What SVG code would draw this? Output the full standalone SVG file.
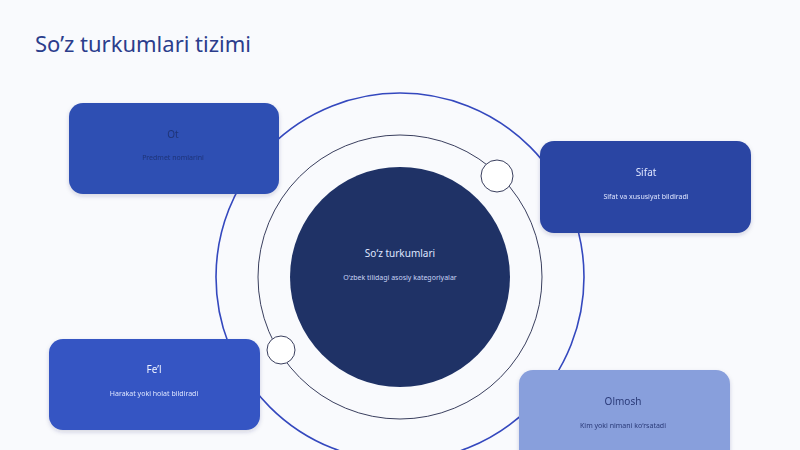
<svg xmlns="http://www.w3.org/2000/svg" width="800" height="450" viewBox="0 0 800 450">
<defs>
<filter id="sh" x="-10%" y="-10%" width="120%" height="130%"><feDropShadow dx="0" dy="2" stdDeviation="2" flood-color="#1e2a60" flood-opacity="0.18"/></filter>
<style>
.t{font-family:"Noto Sans","Open Sans",sans-serif;text-anchor:middle}
.h{font-size:10px}
.s{font-size:7px}
</style>
</defs>
<rect width="800" height="450" fill="#f9fafd"/>
<text x="35" y="52" font-family="Noto Sans, sans-serif" font-size="22" fill="#2b3d8c">So’z turkumlari tizimi</text>
<g id="connectors" fill="none">
<circle cx="400" cy="277" r="184" stroke="#3448be" stroke-width="1.6"/>
<circle cx="400" cy="277" r="142" stroke="#3a3f5e" stroke-width="1"/>
</g>
<g id="center">
<circle cx="400" cy="277" r="110" fill="#1f3266"/>
<text class="t h" x="400" y="257" fill="#dfe6ff">So‘z turkumlari</text>
<text class="t s" x="400" y="280" fill="#c9d4f5">O‘zbek tilidagi asosiy kategoriyalar</text>
</g>
<g id="dot1"><circle cx="497" cy="176" r="16" fill="#ffffff" stroke="#3a3f5e" stroke-width="1"/></g>
<g id="dot2"><circle cx="281" cy="350" r="14" fill="#ffffff" stroke="#3a3f5e" stroke-width="1"/></g>
<g id="ot" filter="url(#sh)">
<rect x="69" y="103" width="210" height="91" rx="14" fill="#2e4fb3"/>
<text class="t h" x="173" y="138" fill="#1f3478">Ot</text>
<text class="t s" x="173" y="160" fill="#1f3478">Predmet nomlarini</text>
</g>
<g id="sifat" filter="url(#sh)">
<rect x="540" y="141" width="211" height="92" rx="14" fill="#2a45a3"/>
<text class="t h" x="646" y="176" fill="#dfe6ff">Sifat</text>
<text class="t s" x="646" y="199" fill="#dfe6ff">Sifat va xususiyat bildiradi</text>
</g>
<g id="fel" filter="url(#sh)">
<rect x="49" y="339" width="211" height="91" rx="14" fill="#3455c3"/>
<text class="t h" x="154" y="373" fill="#eef2ff">Fe’l</text>
<text class="t s" x="154" y="396" fill="#dfe6ff">Harakat yoki holat bildiradi</text>
</g>
<g id="olmosh" filter="url(#sh)">
<rect x="519" y="370" width="211" height="95" rx="14" fill="#889fdc"/>
<text class="t h" x="623" y="405" fill="#2a3a78">Olmosh</text>
<text class="t s" x="623" y="428" fill="#2a3a78">Kim yoki nimani ko‘rsatadi</text>
</g>
</svg>
